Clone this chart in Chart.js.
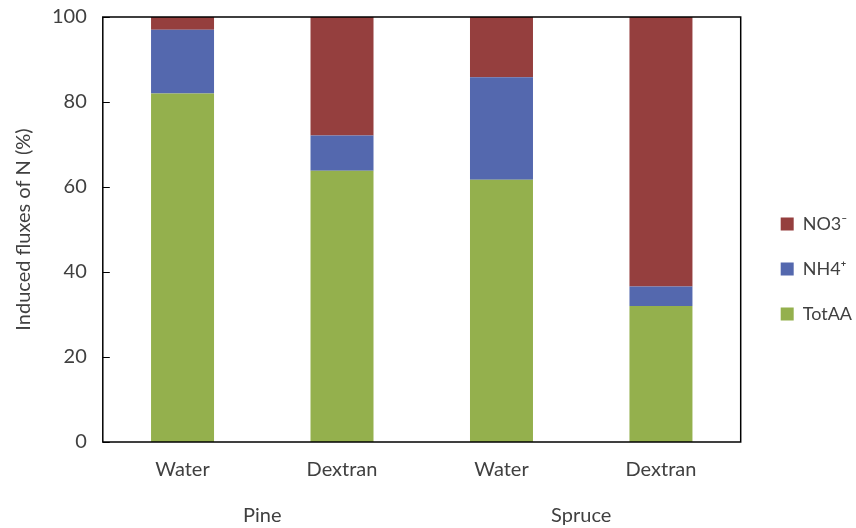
<!DOCTYPE html>
<html>
<head>
<meta charset="utf-8">
<script src="https://cdn.jsdelivr.net/npm/chart.js@4"></script>
<style>
html,body{margin:0;padding:0;background:#fff;}
#wrap{width:856px;height:528px;}
</style>
</head>
<body>
<div id="wrap"><canvas id="c"></canvas></div>
<script>
// categories
const treatments=['Water','Dextran','Water','Dextran'];
const species=['Pine','Spruce'];
// series (% of induced N flux)
const totAA=[82,63.8,61.7,32];
const nh4=[15,8.3,24.1,4.6];
const no3=[3,27.9,14.2,63.4];
const yTicks=[0,20,40,60,80,100];

const txt='#404040';
const fnt={family:'Lato, "Liberation Sans", sans-serif',size:20};

// frame round the plot + inner y ticks; nudge legend
const frame={
  id:'frame',
  afterLayout(ch){
    const lg=ch.legend;
    lg.left+=13;lg.right+=13;lg.top+=5;lg.bottom+=5;
  },
  afterDraw(ch){
    const {ctx,chartArea:a}=ch,y=ch.scales.y;
    ctx.save();
    ctx.strokeStyle='#000';ctx.lineWidth=1.5;
    ctx.strokeRect(a.left,a.top,a.right-a.left,a.bottom-a.top);
    ctx.lineWidth=1;
    yTicks.forEach(v=>{
      const p=Math.round(y.getPixelForValue(v))+0.5;
      ctx.beginPath();ctx.moveTo(a.left,p);ctx.lineTo(a.left+7,p);ctx.stroke();
    });
    ctx.restore();
  }
};

const ds=(label,data,color)=>({label,data,backgroundColor:color,borderWidth:0,barPercentage:0.79,categoryPercentage:0.5});

new Chart(document.getElementById('c'),{
  type:'bar',
  data:{labels:treatments,datasets:[
    ds('TotAA',totAA,'#94b04d'),
    ds('NH4⁺',nh4,'#5468ae'),
    ds('NO3⁻',no3,'#953f3e')
  ]},
  options:{
    responsive:true,maintainAspectRatio:false,animation:false,
    layout:{padding:{left:12,right:7,top:0,bottom:0}},
    plugins:{
      legend:{position:'right',reverse:true,
        labels:{color:txt,font:{...fnt,size:18},boxWidth:13,boxHeight:13,padding:27}},
      tooltip:{enabled:false}
    },
    scales:{
      x:{stacked:true,grid:{display:false,drawTicks:false},border:{display:false},
        ticks:{color:txt,font:fnt,padding:16},afterFit:s=>{s.height=42;}},
      x2:{type:'category',labels:species,position:'bottom',offset:true,
        grid:{display:false,drawTicks:false},border:{display:false},
        ticks:{color:txt,font:fnt,padding:20},afterFit:s=>{s.height=44;}},
      y:{stacked:true,min:0,max:100,
        afterBuildTicks:s=>{s.ticks=yTicks.map(v=>({value:v}));},
        grid:{display:false,drawTicks:false},border:{display:false},
        ticks:{color:txt,font:fnt,padding:16},
        afterFit:s=>{s.paddingTop=17;},
        title:{display:true,text:'Induced fluxes of N (%)',color:txt,font:fnt,padding:{top:0,bottom:0}}}
    }
  },
  plugins:[frame]
});
</script>
</body>
</html>
